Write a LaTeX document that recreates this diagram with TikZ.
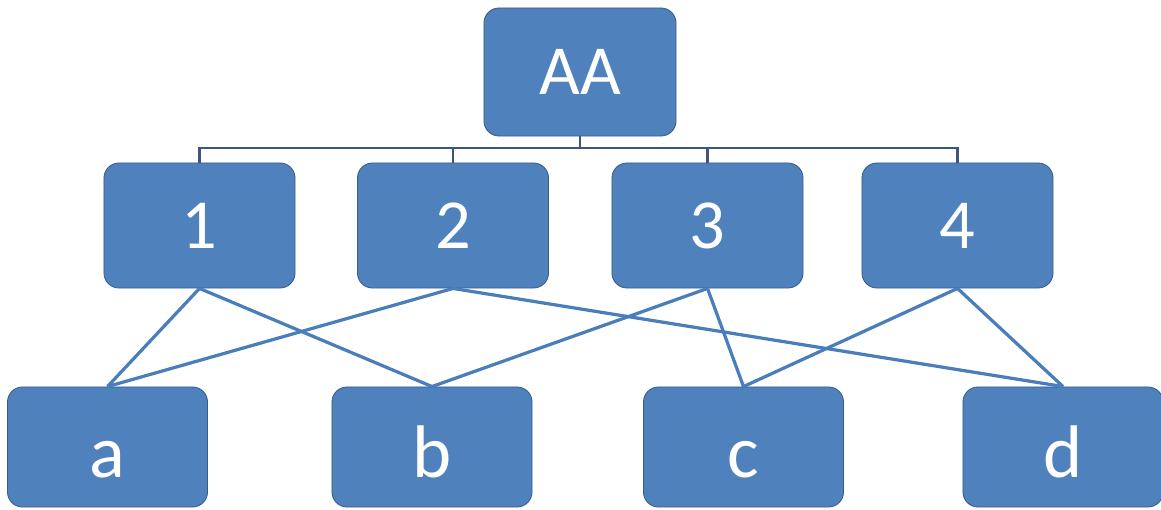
\documentclass[tikz,border=0pt]{standalone}
\usepackage{fontspec}
\setmainfont{Carlito}
\definecolor{boxfill}{HTML}{4F81BD}
\definecolor{boxline}{HTML}{385D8A}
\definecolor{busline}{HTML}{3E5679}
\definecolor{linkblue}{HTML}{4A7EBB}
\tikzset{
  unit/.style={rectangle,rounded corners=0.375cm,fill=boxfill,draw=boxline,
    line width=0.6pt,text=white,inner sep=0pt,font=\fontsize{50}{60}\selectfont},
  rootbox/.style={unit,minimum width=4.8cm,minimum height=3.2cm},
  midbox/.style={unit,minimum width=4.775cm,minimum height=3.125cm},
  leafbox/.style={unit,minimum width=5cm,minimum height=3cm,
    text height=1.5cm,text depth=0cm,font=\fontsize{53}{64}\selectfont},
  bus/.style={draw=busline,line width=1.8pt},
  linkline/.style={draw=linkblue,line width=2.3pt},
}

\begin{document}
\begin{tikzpicture}[x=0.025cm,y=-0.025cm]
  \useasboundingbox (0,0) rectangle (1161,510);

  \node [rootbox] (root) at (580,72) {AA};
  \foreach \i/\x in {1/199.5,2/453,3/707.5,4/957.5}
    \node [midbox] (m\i) at (\x,225.5) {\i};
  \foreach \l/\x in {a/107.5,b/432,c/743.5,d/1063}
    \node [leafbox] (\l) at (\x,447) {\l};

  % bus from the root down to the middle row
  \coordinate (join) at (580,148);
  \draw [bus] (root.south) -- (join);
  \draw [bus] (m1.north) |- (m4.north |- join) -- (m4.north);
  \foreach \i in {2,3}
    \draw [bus] (m\i.north) -- (m\i.north |- join);

  % crossing links to the bottom row
  \foreach \i/\l in {1/a,1/b,2/a,2/d,3/b,3/c,4/c,4/d}
    \draw [linkline] (m\i.south) -- (\l.north);
\end{tikzpicture}
\end{document}
